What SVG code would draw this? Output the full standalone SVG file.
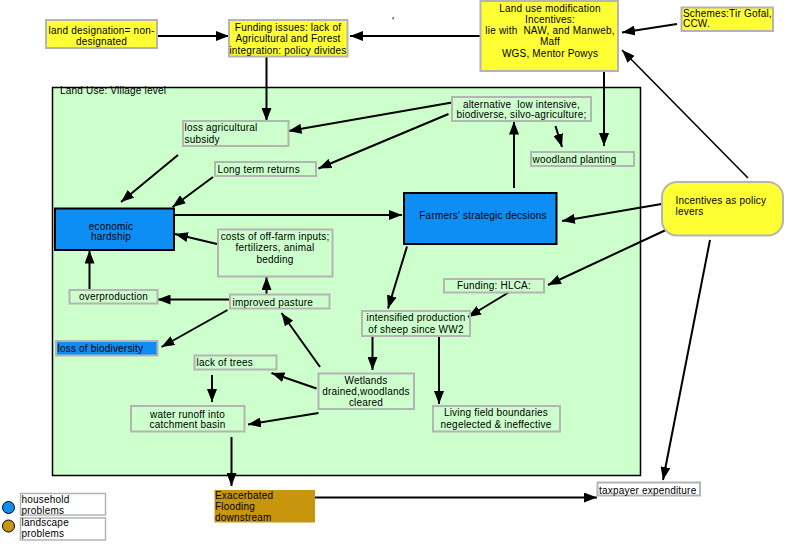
<svg xmlns="http://www.w3.org/2000/svg" width="792" height="546" viewBox="0 0 792 546">
<style>
text{font-family:"Liberation Sans",Arial,sans-serif;font-size:10px;fill:#000;letter-spacing:0.2px;white-space:pre}
.c{text-anchor:middle}
.yel{fill:#ffff33;stroke:#b4b4b4;stroke-width:2}
.box{fill:none;stroke:#b4b4b4;stroke-width:2}
.blue{fill:#0d8ef5;stroke:#000;stroke-width:2}
.bluel{fill:#0d8ef5;stroke:#b4b4b4;stroke-width:2}
.wbox{fill:#fff;stroke:#b4b4b4;stroke-width:1.5}
.cn line{stroke:#000;stroke-width:2;marker-end:url(#ah)}
</style>
<defs>
<marker id="ah" markerUnits="userSpaceOnUse" markerWidth="13" markerHeight="10" refX="13" refY="5" orient="auto">
<path d="M0,0 L13,5 L0,10 z" fill="#000"/>
</marker>
</defs>
<rect width="792" height="546" fill="#fff"/>
<g id="village">
<rect x="52.5" y="87.5" width="588" height="388" fill="#ccffcc" stroke="#000" stroke-width="1.5"/>
<text x="60" y="93.5">Land Use: Village level</text>
</g>
<text x="392" y="25" style="font-size:11px">'</text>
<g class="cn">
<line x1="157" y1="36" x2="229" y2="36"/>
<line x1="480" y1="36" x2="350" y2="36"/>
<line x1="677" y1="24" x2="622" y2="32.5"/>
<line x1="748" y1="178" x2="622" y2="50" style="stroke-width:1.6"/>
<line x1="604" y1="71" x2="604" y2="146"/>
<line x1="266.5" y1="57" x2="266.5" y2="121"/>
<line x1="178" y1="155" x2="121" y2="202"/>
<line x1="213" y1="177" x2="172.5" y2="207"/>
<line x1="452" y1="102.5" x2="288.5" y2="131"/>
<line x1="448.5" y1="114" x2="318.5" y2="168.5"/>
<line x1="174" y1="215" x2="402" y2="215"/>
<line x1="217" y1="244" x2="175" y2="234"/>
<line x1="266.5" y1="295" x2="266.5" y2="277"/>
<line x1="89.5" y1="290" x2="89.5" y2="250.5"/>
<line x1="555.5" y1="126" x2="562" y2="147"/>
<line x1="514" y1="188" x2="514" y2="121.5"/>
<line x1="661.5" y1="204" x2="562" y2="221"/>
<line x1="668" y1="229" x2="548" y2="285"/>
<line x1="710" y1="240" x2="663" y2="480"/>
<line x1="407" y1="246.5" x2="388" y2="308.5"/>
<line x1="508.5" y1="292.5" x2="468" y2="317"/>
<line x1="372.5" y1="336" x2="372.5" y2="370"/>
<line x1="439" y1="336" x2="439" y2="404"/>
<line x1="230" y1="299.5" x2="157.5" y2="299.5"/>
<line x1="227.5" y1="310" x2="161.5" y2="347"/>
<line x1="320" y1="367" x2="281.5" y2="313"/>
<line x1="316.5" y1="388.5" x2="271.5" y2="373"/>
<line x1="318.5" y1="413" x2="248" y2="424.5"/>
<line x1="212" y1="375" x2="212" y2="402"/>
<line x1="231.5" y1="437" x2="231.5" y2="486"/>
<line x1="315" y1="497.5" x2="597" y2="497.5"/>
</g>
<g id="land-designation">
<rect class="yel" x="46" y="20" width="111" height="28"/>
<text class="c" x="101.5" y="33.5">land designation= non-</text>
<text class="c" x="101.5" y="44.5">designated</text>
</g>
<g id="funding-issues">
<rect class="yel" x="229" y="20" width="118.5" height="36.5"/>
<text class="c" x="288" y="31">Funding issues: lack of</text>
<text class="c" x="288" y="42">Agricultural and Forest</text>
<text class="c" x="288" y="53.5">integration: policy divides</text>
</g>
<g id="land-use-mod">
<rect class="yel" x="480.5" y="1" width="137.5" height="70"/>
<text class="c" x="550" y="12">Land use modification</text>
<text class="c" x="550" y="23">Incentives:</text>
<text class="c" x="550" y="34">lie with  NAW, and Manweb,</text>
<text class="c" x="550" y="45">Maff</text>
<text class="c" x="550" y="56.5">WGS, Mentor Powys</text>
</g>
<g id="schemes">
<rect class="yel" x="681.5" y="7.5" width="91.5" height="23.5"/>
<text x="683" y="17">Schemes:Tir Gofal,</text>
<text x="683" y="26.5">CCW.</text>
</g>
<g id="loss-subsidy">
<rect class="box" x="183" y="121" width="105.5" height="25"/>
<text x="184.5" y="131">loss agricultural</text>
<text x="184.5" y="142.5">subsidy</text>
</g>
<g id="long-term">
<rect class="box" x="215" y="162" width="101" height="14"/>
<text x="217.5" y="172.5">Long term returns</text>
</g>
<g id="economic-hardship">
<rect class="blue" x="55" y="208.5" width="119" height="41.5"/>
<text class="c" x="111" y="229.5">economic</text>
<text class="c" x="111" y="240">hardship</text>
</g>
<g id="costs">
<rect class="box" x="218" y="229.5" width="114.5" height="47"/>
<text class="c" x="275" y="240">costs of off-farm inputs;</text>
<text class="c" x="275" y="251">fertilizers, animal</text>
<text class="c" x="275" y="262.5">bedding</text>
</g>
<g id="alternative">
<rect class="box" x="452" y="97" width="139" height="24"/>
<text class="c" x="521.5" y="107.5">alternative  low intensive,</text>
<text class="c" x="521.5" y="118">biodiverse, silvo-agriculture;</text>
</g>
<g id="woodland">
<rect class="box" x="531" y="152" width="103" height="14"/>
<text x="532.5" y="162.5">woodland planting</text>
</g>
<g id="farmers">
<rect class="blue" x="404" y="193" width="152.5" height="51"/>
<text class="c" x="483" y="218.5">Farmers' strategic decsions</text>
</g>
<g id="incentives">
<rect class="yel" x="662" y="182" width="121" height="53.5" rx="15" ry="15"/>
<text x="675.5" y="204">Incentives as policy</text>
<text x="675.5" y="215">levers</text>
</g>
<g id="hlca">
<rect class="box" x="444" y="279" width="100" height="13.5"/>
<text class="c" x="494" y="289">Funding: HLCA:</text>
</g>
<g id="intensified">
<rect class="box" x="362" y="311" width="108" height="25"/>
<text class="c" x="416" y="321">intensified production</text>
<text class="c" x="416" y="332.5">of sheep since WW2</text>
</g>
<g id="wetlands">
<rect class="box" x="318.5" y="373.5" width="95.5" height="35.5"/>
<text class="c" x="366" y="384">Wetlands</text>
<text class="c" x="366" y="395">drained,woodlands</text>
<text class="c" x="366" y="406">cleared</text>
</g>
<g id="living-field">
<rect class="box" x="433" y="406" width="127" height="25.5"/>
<text class="c" x="496" y="416">Living field boundaries</text>
<text class="c" x="496" y="427.5">negelected &amp; ineffective</text>
</g>
<g id="overproduction">
<rect class="box" x="69.5" y="290" width="88" height="13.5"/>
<text class="c" x="113.5" y="300">overproduction</text>
</g>
<g id="improved-pasture">
<rect class="box" x="230" y="294.5" width="99.5" height="14"/>
<text x="232.5" y="305.5">improved pasture</text>
</g>
<g id="loss-biodiversity">
<rect class="bluel" x="56" y="341" width="101.5" height="14.5"/>
<text x="57.5" y="351.5">loss of biodiversity</text>
</g>
<g id="lack-trees">
<rect class="box" x="194.5" y="355.5" width="82" height="14"/>
<text x="196.5" y="366">lack of trees</text>
</g>
<g id="water-runoff">
<rect class="box" x="131" y="406" width="113.5" height="25.5"/>
<text class="c" x="187.5" y="417.5">water runoff into</text>
<text class="c" x="187.5" y="428">catchment basin</text>
</g>
<g id="flooding">
<rect x="214.5" y="490" width="100.5" height="32.5" fill="#c8960c"/>
<text x="215" y="499">Exacerbated</text>
<text x="215" y="510">Flooding</text>
<text x="215" y="521">downstream</text>
</g>
<g id="taxpayer">
<rect class="box" x="597.5" y="482.5" width="102.5" height="13"/>
<text x="599" y="493.5">taxpayer expenditure</text>
</g>
<g id="legend">
<circle cx="8.5" cy="507.5" r="6" fill="#0d8ef5" stroke="#000" stroke-width="1"/>
<circle cx="8.5" cy="526" r="6" fill="#c8960c" stroke="#000" stroke-width="1"/>
<rect class="wbox" x="20.5" y="493.5" width="85" height="21.5"/>
<rect class="wbox" x="20.5" y="518" width="85" height="22"/>
<text x="21.5" y="502.5">household</text>
<text x="21.5" y="513.5">problems</text>
<text x="21.5" y="526">landscape</text>
<text x="21.5" y="537">problems</text>
</g>
</svg>
